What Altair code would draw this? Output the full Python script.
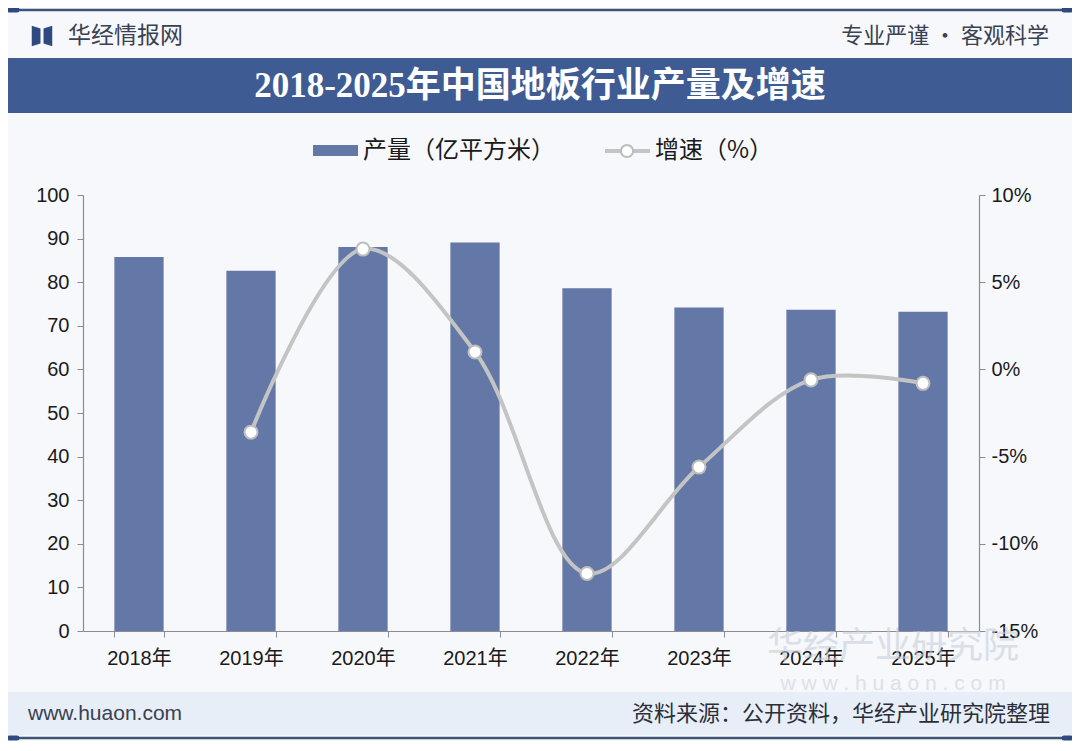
import altair as alt
import pandas as pd

# ---- data ----
years = ["2018年", "2019年", "2020年", "2021年", "2022年", "2023年", "2024年", "2025年"]
output = [85.8, 82.6, 88.1, 89.1, 78.6, 74.2, 73.7, 73.2]          # 产量（亿平方米）
growth_years = ["2019年", "2020年", "2021年", "2022年", "2023年", "2024年", "2025年"]
growth = [-3.6, 6.9, 1.0, -11.7, -5.6, -0.6, -0.8]                  # 增速（%）
left_ticks = [0, 10, 20, 30, 40, 50, 60, 70, 80, 90, 100]
right_ticks = [-15, -10, -5, 0, 5, 10]

title_text = "2018-2025年中国地板行业产量及增速"
legend_bar = "产量（亿平方米）"
legend_line = "增速（%）"
brand_left = "华经情报网"
brand_right = "专业严谨 • 客观科学"
footer_left = "www.huaon.com"
footer_right = "资料来源：公开资料，华经产业研究院整理"

bars_df = pd.DataFrame({"年份": years, "产量": output})
line_df = pd.DataFrame({"年份": growth_years, "增速": growth})

W, H = 896, 436
PAD = {"left": 75, "top": 187, "right": 93, "bottom": 110}

SANS = "Liberation Sans, Noto Sans CJK SC"
CJK = "Noto Sans CJK SC"
BAR = "#6378a6"
NAVY = "#3e5b93"
LINE = "#c4c4c4"
AXC = "#8c8c8c"

one = alt.Data(values=[{"k": 1}])

xenc = alt.X(
    "年份:N", sort=years,
    scale=alt.Scale(domain=years, paddingInner=0.56, paddingOuter=0.28),
    axis=alt.Axis(title=None, labelAngle=0, labelFontSize=20, labelColor="#1a1a1a",
                  labelFont=SANS, domainColor=AXC, tickColor=AXC, tickBand="extent",
                  tickSize=6, labelPadding=11, domainWidth=1.2),
)

bars = alt.Chart(bars_df).mark_bar(color=BAR).encode(
    x=xenc,
    y=alt.Y("产量:Q", scale=alt.Scale(domain=[0, 100], nice=False),
            axis=alt.Axis(title=None, values=left_ticks, labelFontSize=20, labelColor="#1a1a1a",
                          labelFont=SANS, domainColor=AXC, tickColor=AXC, tickSize=6,
                          labelPadding=8, grid=False, domainWidth=1.2)),
)

yline = alt.Y("增速:Q", scale=alt.Scale(domain=[-15, 10], nice=False),
              axis=alt.Axis(title=None, orient="right", values=right_ticks,
                            labelExpr="datum.value + '%'", labelFontSize=20, labelColor="#1a1a1a",
                            labelFont=SANS, domainColor=AXC, tickColor=AXC, tickSize=6,
                            labelPadding=6, grid=False, domainWidth=1.2))

line = alt.Chart(line_df).mark_line(interpolate="catmull-rom", color=LINE, strokeWidth=4).encode(
    x=xenc, y=yline)
pts = alt.Chart(line_df).mark_point(shape="circle", filled=True, fill="white", stroke="#bdbdbd",
                                    strokeWidth=2, size=170, opacity=1).encode(x=xenc, y=yline)
line_layer = alt.layer(line, pts)

# ---- decorations (pixel positions relative to the plot area) ----
def rect(x1, x2, y1, y2, color, **kw):
    return alt.Chart(one).mark_rect(color=color, **kw).encode(
        x=alt.value(x1), x2=alt.value(x2), y=alt.value(y1), y2=alt.value(y2))

def rule(x1, x2, y, color, width, **kw):
    return alt.Chart(one).mark_rule(color=color, strokeWidth=width, **kw).encode(
        x=alt.value(x1), x2=alt.value(x2), y=alt.value(y))

def text(t, x, y, size, color, align="left", font=CJK, weight="normal", **kw):
    return alt.Chart(one).mark_text(text=t, fontSize=size, color=color, align=align,
                                    baseline="middle", font=font, fontWeight=weight, **kw).encode(
        x=alt.value(x), y=alt.value(y))

icon_path = ("M-1,-1 L-0.15,-0.72 L-0.15,0.72 L-1,1 Z "
             "M1,-1 L0.15,-0.72 L0.15,0.72 L1,1 Z")

decor = [
    # top line with caps
    rule(-75, 989, -185, "#3e5577", 2.5),
    rule(-74, -66, -185, "#2f4a80", 5, strokeCap="round"),
    rule(981, 988, -185, "#2f4a80", 5, strokeCap="round"),
    # brand row
    alt.Chart(one).mark_point(shape=icon_path, filled=True, color="#2f4a80", size=420, opacity=1).encode(
        x=alt.value(-41), y=alt.value(-159)),
    text(brand_left, -15, -159, 23, "#3a4150"),
    text(brand_right, 966, -159, 22, "#3a4150", align="right"),
    # title banner
    rect(-75, 989, -137, -82, NAVY),
    text(title_text, 457, -109, 35, "white", align="center",
         font="Liberation Serif, Noto Sans CJK SC", weight="bold"),
    # legend
    rect(230, 275, -50, -39, BAR),
    text(legend_bar, 280, -44, 24, "#1a1a1a"),
    rule(522, 567, -44, LINE, 4),
    alt.Chart(one).mark_point(shape="circle", filled=True, fill="white", stroke="#bdbdbd",
                              strokeWidth=2, size=150, opacity=1).encode(
        x=alt.value(544), y=alt.value(-44)),
    text(legend_line, 572, -44, 24, "#1a1a1a"),
    # watermark (faint, behind the data as in the reference)
    text("华经产业研究院", 810, 452, 36, "#c8ced8", align="center", opacity=0.6),
    text("w w w . h u a o n . c o m", 810, 489, 21, "#cdd2da", align="center",
         font=SANS, opacity=0.6),
    # footer
    rect(-75, 989, 497, 540, "#e8eef7"),
    text(footer_left, -55, 519, 21, "#3a4150", font=SANS),
    text(footer_right, 967, 519, 22, "#2a2f3a", align="right"),
    rule(-75, 989, 543, "#3e5577", 2.5),
    rule(-74, -66, 543, "#2f4a80", 5, strokeCap="round"),
    rule(981, 988, 543, "#2f4a80", 5, strokeCap="round"),
]

chart = alt.layer(*decor, bars, line_layer).resolve_scale(y="independent").properties(
    width=W, height=H, padding=PAD,
    autosize=alt.AutoSizeParams(type="none"),
    background="#f6f8fc",
).configure_view(strokeWidth=0)

chart.save("out.html", embed_options={"renderer": "svg", "actions": False})
